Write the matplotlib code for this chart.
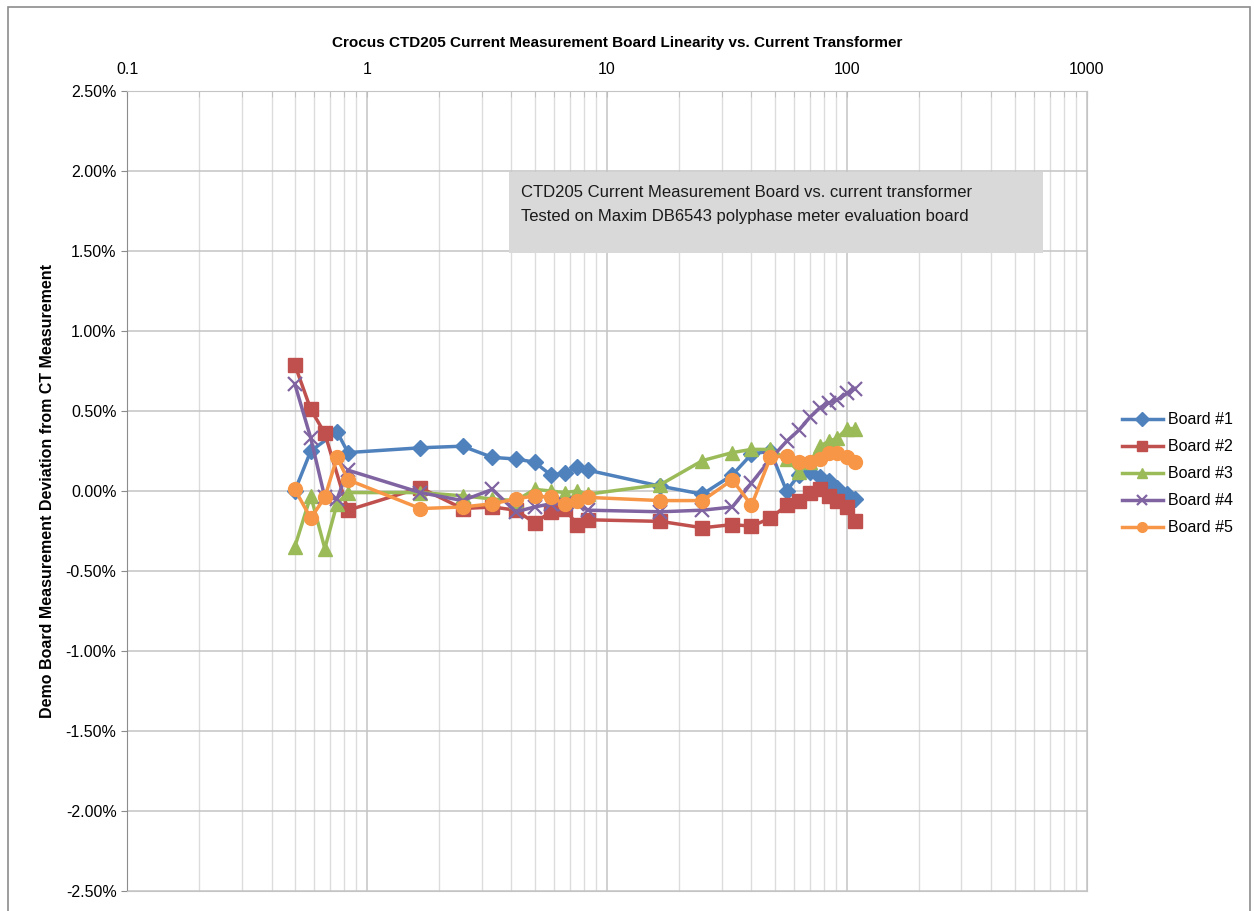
import matplotlib.pyplot as plt
from matplotlib.patches import Rectangle
from matplotlib.ticker import FixedLocator, FuncFormatter, NullFormatter
import numpy as np

# current (A) and deviation (%) per board
low_x = [0.5, 0.583, 0.667, 0.75, 0.833]
mid_x = [1.67, 2.5, 3.33, 4.17, 5.0, 5.83, 6.67, 7.5, 8.33]
high_x = [16.7, 25, 33.3, 40, 48, 56, 63, 70, 77, 84, 91, 100, 108]

b1_x = [0.5, 0.583, 0.75, 0.833] + mid_x + high_x
b1_y = [0.00, 0.25, 0.37, 0.24,
        0.27, 0.28, 0.21, 0.20, 0.18, 0.10, 0.11, 0.15, 0.13,
        0.03, -0.02, 0.10, 0.23, 0.25, 0.00, 0.10, 0.12, 0.09, 0.06, 0.02, -0.02, -0.05]

b2_x = [0.5, 0.583, 0.667, 0.833] + mid_x + high_x
b2_y = [0.79, 0.51, 0.36, -0.12,
        0.02, -0.11, -0.10, -0.12, -0.20, -0.13, -0.11, -0.21, -0.18,
        -0.19, -0.23, -0.21, -0.22, -0.17, -0.09, -0.06, -0.01, 0.01, -0.03, -0.06, -0.10, -0.19]

b3_x = low_x + mid_x + high_x
b3_y = [-0.35, -0.03, -0.36, -0.08, -0.01,
        -0.01, -0.03, -0.05, -0.06, 0.01, 0.00, -0.01, 0.00, -0.02,
        0.04, 0.19, 0.24, 0.26, 0.26, 0.20, 0.12, 0.18, 0.28, 0.31, 0.33, 0.39, 0.39]

b4_x = low_x + mid_x + high_x
b4_y = [0.67, 0.33, -0.04, -0.05, 0.13,
        -0.01, -0.06, 0.01, -0.13, -0.10, -0.08, -0.08, -0.08, -0.12,
        -0.13, -0.12, -0.10, 0.05, 0.20, 0.31, 0.38, 0.46, 0.52, 0.55, 0.57, 0.61, 0.64]

b5_x = low_x + mid_x + high_x
b5_y = [0.01, -0.17, -0.04, 0.21, 0.07,
        -0.11, -0.10, -0.08, -0.05, -0.03, -0.04, -0.08, -0.06, -0.04,
        -0.06, -0.06, 0.07, -0.09, 0.21, 0.22, 0.18, 0.18, 0.20, 0.24, 0.24, 0.21, 0.18]

series = [
    ('Board #1', b1_x, b1_y, '#4F81BD', 'D', 8),
    ('Board #2', b2_x, b2_y, '#C0504D', 's', 10),
    ('Board #3', b3_x, b3_y, '#9BBB59', '^', 10),
    ('Board #4', b4_x, b4_y, '#8064A2', 'x', 10),
    ('Board #5', b5_x, b5_y, '#F79646', 'o', 10),
]

plt.rcParams['font.family'] = ['Liberation Sans Narrow', 'Liberation Sans', 'DejaVu Sans']

fig = plt.figure(figsize=(12.54, 9.11), dpi=100)
ax = fig.add_axes([0.1013, 0.022, 0.7655, 0.8781])

for name, xs, ys, col, mk, ms in series:
    ax.plot(xs, ys, color=col, lw=2.5, marker=mk, markersize=ms,
            markeredgewidth=1.6 if mk == 'x' else 1.0, label=name, zorder=3)

ax.set_xscale('log')
ax.set_xlim(0.1, 1000)
ax.set_ylim(-2.5, 2.5)
ax.xaxis.tick_top()
ax.xaxis.set_major_locator(FixedLocator([0.1, 1, 10, 100, 1000]))
ax.xaxis.set_major_formatter(FuncFormatter(lambda v, p: '%g' % v))
ax.xaxis.set_minor_formatter(NullFormatter())
ax.set_yticks(np.arange(-2.5, 2.51, 0.5))
ax.yaxis.set_major_formatter(FuncFormatter(lambda v, p: '%.2f%%' % v))

ax.grid(True, which='major', color='#c4c4c4', lw=1.1, zorder=0)
ax.grid(True, which='minor', axis='x', color='#dcdcdc', lw=1.0, zorder=0)
ax.tick_params(axis='both', which='both', labelsize=11.5, length=4)
ax.tick_params(axis='x', which='both', direction='in', color='#bdbdbd', pad=10)
ax.tick_params(axis='y', which='major', color='#8c8c8c')
for lab in ax.get_xticklabels() + ax.get_yticklabels():
    lab.set_fontfamily(['Liberation Sans', 'DejaVu Sans'])
    lab.set_color('black')
for s in ax.spines.values():
    s.set_color('#c4c4c4')
ax.spines['left'].set_color('#8c8c8c')

ax.set_ylabel('Demo Board Measurement Deviation from CT Measurement',
              fontsize=11.5, fontweight='bold', labelpad=8)
fig.text(0.4921, 0.953, 'Crocus CTD205 Current Measurement Board Linearity vs. Current Transformer',
         ha='center', va='center', fontsize=11, fontweight='bold')

# note box
fig.patches.append(Rectangle((0.406, 0.7223), 0.426, 0.0889, transform=fig.transFigure,
                             facecolor='#d9d9d9', edgecolor='none', zorder=2))
fig.text(0.4155, 0.789, 'CTD205 Current Measurement Board vs. current transformer',
         fontsize=12, va='center', family=['Liberation Sans', 'DejaVu Sans'], color='#1a1a1a', zorder=3)
fig.text(0.4155, 0.762, 'Tested on Maxim DB6543 polyphase meter evaluation board',
         fontsize=12, va='center', family=['Liberation Sans', 'DejaVu Sans'], color='#1a1a1a', zorder=3)

leg = fig.legend(loc='center left', bbox_to_anchor=(0.883, 0.48), frameon=False,
                 prop={'family': ['Liberation Sans', 'DejaVu Sans'], 'size': 11.5},
                 handlelength=2.6, labelspacing=0.75, handletextpad=0.3)
for h in leg.legend_handles:
    h.set_markersize(7)

# outer chart frame
fig.patches.append(Rectangle((0.0065, -0.01), 0.99, 1.002, transform=fig.transFigure,
                             facecolor='none', edgecolor='#8c8c8c', lw=1.2))

fig.savefig('out.png', dpi=100)
